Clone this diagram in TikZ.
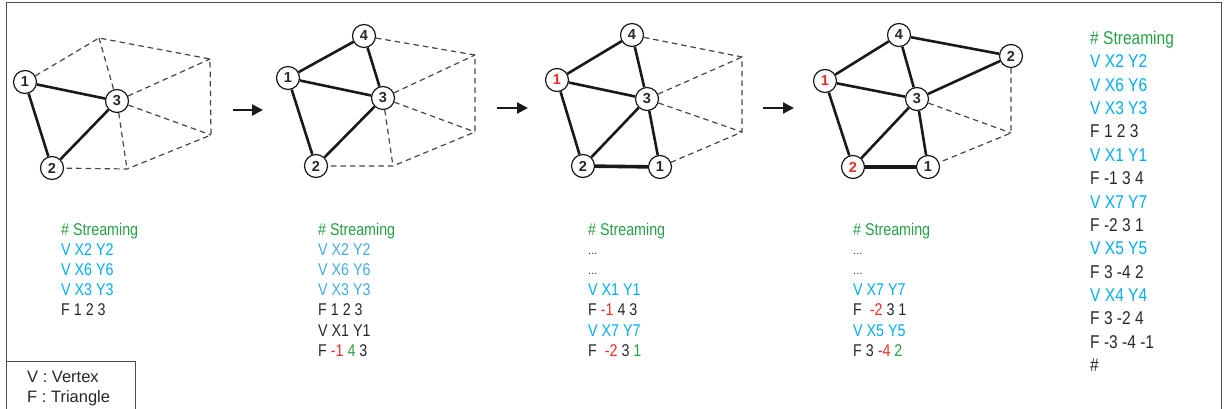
\documentclass[tikz,border=0pt]{standalone}
\usepackage{fontspec}
\setmainfont{Liberation Sans}
\newfontfamily\narrowfont{Liberation Sans}[FakeStretch=0.84]
\usetikzlibrary{arrows.meta}
\definecolor{txtgreen}{RGB}{40,160,70}
\definecolor{txtblue}{RGB}{0,174,239}
\definecolor{txtbluelt}{RGB}{70,170,225}
\definecolor{txtred}{RGB}{235,45,40}
\definecolor{txtdark}{RGB}{40,40,40}
\definecolor{edgedark}{RGB}{25,25,25}
\definecolor{edgegray}{RGB}{70,70,70}
\tikzset{
  vtx/.style={circle, draw=edgedark, line width=1.2pt, fill=white, minimum size=23pt, inner sep=0pt,
    font=\fontsize{14.5}{14.5}\selectfont\bfseries, text=txtdark},
  redvtx/.style={vtx, text=txtred},
  solidedge/.style={line width=2.6pt, draw=edgedark},
  thickedge/.style={line width=3.6pt, draw=edgedark},
  dashedge/.style={line width=1.2pt, draw=edgegray, dash pattern=on 5.5pt off 4pt},
  code/.style={anchor=base west, inner sep=0pt, text=txtdark, font=\narrowfont\fontsize{17}{20}\selectfont},
  bigcode/.style={anchor=base west, inner sep=0pt, text=txtdark, font=\narrowfont\fontsize{18.5}{22}\selectfont},
  legendtxt/.style={anchor=base west, inner sep=0pt, text=txtdark, font=\fontsize{16.5}{20}\selectfont},
  steparrow/.style={line width=2.2pt, draw=edgedark, -{Triangle[length=11pt,width=11pt]}},
  framebox/.style={line width=0.8pt, draw=black!70}
}
\begin{document}
\begin{tikzpicture}[x=1pt,y=-1pt]
\useasboundingbox (0,0) rectangle (1225,409);
% frame
\draw[framebox] (6,409) -- (6,2.5) -- (1221.5,2.5) -- (1221.5,409);

% ---------- Graph 1 ----------
\node[vtx] (g1v1) at (25,82) {1};
\node[vtx] (g1v3) at (117,101) {3};
\node[vtx] (g1v2) at (52,168) {2};
\coordinate (g1t) at (99,38);
\coordinate (g1tr) at (210,59);
\coordinate (g1rl) at (211,135);
\coordinate (g1b) at (127,169);
\draw[dashedge] (g1v1) -- (g1t) -- (g1tr) -- (g1rl) -- (g1b) -- (g1v2);
\draw[dashedge] (g1t) -- (g1v3);
\draw[dashedge] (g1v3) -- (g1tr);
\draw[dashedge] (g1v3) -- (g1rl);
\draw[dashedge] (g1v3) -- (g1b);
\draw[solidedge] (g1v1) -- (g1v3);
\draw[solidedge] (g1v1) -- (g1v2);
\draw[solidedge] (g1v2) -- (g1v3);

% arrow 1
\coordinate (a1s) at (233,110);
\coordinate (a1e) at (263,110);
\draw[steparrow] (a1s) -- (a1e);

% ---------- Graph 2 ----------
\node[vtx] (g2v4) at (364,36) {4};
\node[vtx] (g2v1) at (288,78) {1};
\node[vtx] (g2v3) at (383,98) {3};
\node[vtx] (g2v2) at (316,166) {2};
\coordinate (g2tr) at (475,55);
\coordinate (g2rl) at (475,132);
\coordinate (g2b) at (393,166);
\draw[dashedge] (g2v4) -- (g2tr) -- (g2rl) -- (g2b) -- (g2v2);
\draw[dashedge] (g2v3) -- (g2tr);
\draw[dashedge] (g2v3) -- (g2rl);
\draw[dashedge] (g2v3) -- (g2b);
\draw[solidedge] (g2v1) -- (g2v4);
\draw[solidedge] (g2v4) -- (g2v3);
\draw[solidedge] (g2v1) -- (g2v3);
\draw[solidedge] (g2v1) -- (g2v2);
\draw[solidedge] (g2v2) -- (g2v3);

% arrow 2
\coordinate (a2s) at (497,108);
\coordinate (a2e) at (528,108);
\draw[steparrow] (a2s) -- (a2e);

% ---------- Graph 3 ----------
\node[vtx] (g3v4) at (632,35) {4};
\node[redvtx] (g3v1) at (557,80) {1};
\node[vtx] (g3v3) at (647,99) {3};
\node[vtx] (g3v2) at (583,166) {2};
\node[vtx] (g3w1) at (660,167) {1};
\coordinate (g3tr) at (742,57);
\coordinate (g3rl) at (742,132);
\draw[dashedge] (g3v4) -- (g3tr) -- (g3rl) -- (g3w1);
\draw[dashedge] (g3v3) -- (g3tr);
\draw[dashedge] (g3v3) -- (g3rl);
\draw[solidedge] (g3v1) -- (g3v4);
\draw[solidedge] (g3v4) -- (g3v3);
\draw[solidedge] (g3v1) -- (g3v3);
\draw[solidedge] (g3v1) -- (g3v2);
\draw[solidedge] (g3v2) -- (g3v3);
\draw[solidedge] (g3v3) -- (g3w1);
\draw[thickedge] (g3v2) -- (g3w1);

% arrow 3
\coordinate (a3s) at (763,108);
\coordinate (a3e) at (794,108);
\draw[steparrow] (a3s) -- (a3e);

% ---------- Graph 4 ----------
\node[vtx] (g4v4) at (899,35) {4};
\node[redvtx] (g4v1) at (825,81) {1};
\node[vtx] (g4v3) at (917,99) {3};
\node[redvtx] (g4v2) at (853,167) {2};
\node[vtx] (g4w1) at (928,167) {1};
\node[vtx] (g4w2) at (1011,56) {2};
\coordinate (g4rl) at (1011,133);
\draw[dashedge] (g4w2) -- (g4rl) -- (g4w1);
\draw[dashedge] (g4v3) -- (g4rl);
\draw[solidedge] (g4v1) -- (g4v4);
\draw[solidedge] (g4v4) -- (g4v3);
\draw[solidedge] (g4v4) -- (g4w2);
\draw[solidedge] (g4v1) -- (g4v3);
\draw[solidedge] (g4v1) -- (g4v2);
\draw[solidedge] (g4v2) -- (g4v3);
\draw[solidedge] (g4v3) -- (g4w1);
\draw[solidedge] (g4v3) -- (g4w2);
\draw[thickedge] (g4v2) -- (g4w1);

% ---------- Column 1 ----------
\node[code, text=txtgreen] (c1l0) at (61,235) {\# Streaming};
\node[code, text=txtblue] (c1l1) at (61,255.5) {V X2 Y2};
\node[code, text=txtblue] (c1l2) at (61,275.5) {V X6 Y6};
\node[code, text=txtblue] (c1l3) at (61,295.5) {V X3 Y3};
\node[code] (c1l4) at (61,315.5) {F 1 2 3};

% ---------- Column 2 ----------
\node[code, text=txtgreen] (c2l0) at (318,235) {\# Streaming};
\node[code, text=txtbluelt] (c2l1) at (318,255.5) {V X2 Y2};
\node[code, text=txtbluelt] (c2l2) at (318,275.5) {V X6 Y6};
\node[code, text=txtbluelt] (c2l3) at (318,295.5) {V X3 Y3};
\node[code] (c2l4) at (318,315.5) {F 1 2 3};
\node[code] (c2l5) at (318,336) {V X1 Y1};
\node[code] (c2l6) at (318,356.5) {F {\color{txtred}-1} {\color{txtgreen}4} 3};

% ---------- Column 3 ----------
\node[code, text=txtgreen] (c3l0) at (588,235) {\# Streaming};
\node[code, font=\fontsize{11}{12}\selectfont] (c3l1) at (588,254.5) {...};
\node[code, font=\fontsize{11}{12}\selectfont] (c3l2) at (588,274.5) {...};
\node[code, text=txtblue] (c3l3) at (588,295.5) {V X1 Y1};
\node[code] (c3l4) at (588,315.5) {F {\color{txtred}-1} 4 3};
\node[code, text=txtblue] (c3l5) at (588,336) {V X7 Y7};
\node[code] (c3l6) at (588,356.5) {F\ \ {\color{txtred}-2} 3 {\color{txtgreen}1}};

% ---------- Column 4 ----------
\node[code, text=txtgreen] (c4l0) at (853,235) {\# Streaming};
\node[code, font=\fontsize{11}{12}\selectfont] (c4l1) at (853,254.5) {...};
\node[code, font=\fontsize{11}{12}\selectfont] (c4l2) at (853,274.5) {...};
\node[code, text=txtblue] (c4l3) at (853,295.5) {V X7 Y7};
\node[code] (c4l4) at (853,315.5) {F\ \ {\color{txtred}-2} 3 1};
\node[code, text=txtblue] (c4l5) at (853,336) {V X5 Y5};
\node[code] (c4l6) at (853,356.5) {F 3 {\color{txtred}-4} {\color{txtgreen}2}};

% ---------- Column 5 ----------
\node[bigcode, text=txtgreen] (c5l0) at (1090,44.5) {\# Streaming};
\node[bigcode, text=txtblue] (c5l1) at (1090,67.9) {V X2 Y2};
\node[bigcode, text=txtblue] (c5l2) at (1090,91.2) {V X6 Y6};
\node[bigcode, text=txtblue] (c5l3) at (1090,114.6) {V X3 Y3};
\node[bigcode] (c5l4) at (1090,137.9) {F 1 2 3};
\node[bigcode, text=txtblue] (c5l5) at (1090,161.3) {V X1 Y1};
\node[bigcode] (c5l6) at (1090,184.6) {F -1 3 4};
\node[bigcode, text=txtblue] (c5l7) at (1090,208.0) {V X7 Y7};
\node[bigcode] (c5l8) at (1090,231.3) {F -2 3 1};
\node[bigcode, text=txtblue] (c5l9) at (1090,254.7) {V X5 Y5};
\node[bigcode] (c5l10) at (1090,278.0) {F 3 -4 2};
\node[bigcode, text=txtblue] (c5l11) at (1090,301.4) {V X4 Y4};
\node[bigcode] (c5l12) at (1090,324.7) {F 3 -2 4};
\node[bigcode] (c5l13) at (1090,348.1) {F -3 -4 -1};
\node[bigcode] (c5l14) at (1090,371.4) {\#};

% ---------- Legend ----------
\draw[framebox] (6,361) rectangle (135,415);
\node[legendtxt] (lg1) at (27,382) {V : Vertex};
\node[legendtxt] (lg2) at (27,402) {F : Triangle};
\end{tikzpicture}
\end{document}
